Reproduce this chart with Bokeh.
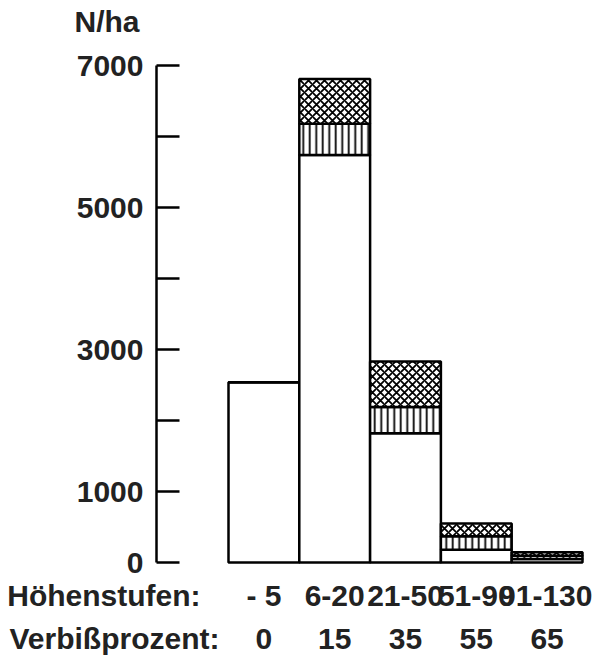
import numpy as np
from bokeh.plotting import figure
from bokeh.layouts import column
from bokeh.models import (ColumnDataSource, Range1d, FixedTicker, LinearAxis)
from bokeh.embed import file_html
from bokeh.resources import INLINE

# ---- data ----
hoehenstufen = ["- 5", "6-20", "21-50", "51-90", "91-130"]
verbissprozent = ["0", "15", "35", "55", "65"]
unverbissen = [2540, 5740, 1820, 180, 50]      # white part
verbissen_1 = [0, 440, 370, 190, 45]           # vertical hatch
verbissen_2 = [0, 630, 640, 180, 50]           # cross hatch
y_ticks = [0, 1000, 2000, 3000, 4000, 5000, 6000, 7000]
y_labeled = [0, 1000, 3000, 5000, 7000]
row_titles = ["Höhenstufen:", "Verbißprozent:"]
unit_label = "N/ha"

FONT = "Liberation Sans"
FS = "30px"
COL = "#222222"
W = 592
FULL_X = (-3.7203, 4.6412)   # x range when the frame spans the full width

idx = np.arange(len(hoehenstufen))
w = np.array(unverbissen, dtype=float)
v = np.array(verbissen_1, dtype=float)
c = np.array(verbissen_2, dtype=float)

src = ColumnDataSource(dict(
    x=idx,
    b0=np.zeros_like(w), t0=w,
    b1=w, t1=w + v,
    b2=w + v, t2=w + v + c,
))


def no_align(fig):
    try:
        fig.frame_align = False
    except AttributeError:
        pass


def style_text_axis(ax, standoff):
    ax.axis_line_color = None
    ax.major_tick_line_color = None
    ax.minor_tick_line_color = None
    ax.major_tick_out = 0
    ax.major_tick_in = 0
    ax.major_label_standoff = standoff
    ax.major_label_text_font = FONT
    ax.major_label_text_font_size = FS
    ax.major_label_text_font_style = "bold"
    ax.major_label_text_color = COL


def strip(height, ticks, overrides, standoffs):
    f = figure(width=W, height=height, output_backend="svg", toolbar_location=None,
               x_range=Range1d(*FULL_X), y_range=Range1d(0, 1),
               min_border_left=0, min_border_right=0, min_border_top=0,
               min_border_bottom=height - 1, x_axis_location=None, y_axis_location=None)
    no_align(f)
    f.outline_line_color = None
    f.xgrid.visible = False
    f.ygrid.visible = False
    f.background_fill_color = "white"
    f.border_fill_color = "white"
    for tk, ov, so in zip(ticks, overrides, standoffs):
        ax = LinearAxis(ticker=FixedTicker(ticks=tk))
        ax.major_label_overrides = ov
        style_text_axis(ax, so)
        f.add_layout(ax, "below")
    return f


# ---------------- unit label strip ----------------
unit_pos = -2.216
r = strip(44, [[unit_pos]], [{unit_pos: unit_label}], [3])

# ---------------- main chart ----------------
p = figure(width=W, height=534, output_backend="svg", toolbar_location=None,
           x_range=Range1d(-1.517, 4.613), y_range=Range1d(-28, 7000),
           min_border_left=156, min_border_right=2, min_border_top=21,
           min_border_bottom=14, x_axis_location=None, y_axis_location=None)
no_align(p)
p.outline_line_color = None
p.xgrid.visible = False
p.ygrid.visible = False
p.background_fill_color = "white"
p.border_fill_color = "white"

common = dict(x="x", width=1.0, source=src, fill_color="white",
              line_color="black", line_width=2.5)
p.vbar(bottom="b0", top="t0", **common)
p.vbar(bottom="b1", top="t1", hatch_pattern="vertical_line", hatch_color="black",
       hatch_scale=6.5, hatch_weight=1.8, **common)
p.vbar(bottom="b2", top="t2", hatch_pattern="diagonal_cross", hatch_color="black",
       hatch_scale=8, hatch_weight=1.8, **common)

yax = LinearAxis(ticker=FixedTicker(ticks=y_ticks), bounds=(0, 7000))
yax.major_label_overrides = {t: (str(t) if t in y_labeled else "") for t in y_ticks}
yax.axis_line_width = 2.5
yax.major_tick_line_width = 2.5
yax.major_tick_in = 23
yax.major_tick_out = 0
yax.minor_tick_line_color = None
yax.major_label_standoff = 13
yax.major_label_text_font = FONT
yax.major_label_text_font_size = FS
yax.major_label_text_font_style = "bold"
yax.major_label_text_color = COL
p.add_layout(yax, "left")

# ---------------- label rows below the bars ----------------
title_pos = [-2.26, -2.11]   # centre of each row heading
rows = [(row_titles[0], title_pos[0], hoehenstufen), (row_titles[1], title_pos[1], verbissprozent)]
ticks, ovs = [], []
for title, tpos, labels in rows:
    ticks.append([tpos] + [float(i) for i in idx])
    ov = {tpos: title}
    ov.update({float(i): lab for i, lab in zip(idx, labels)})
    ovs.append(ov)
q = strip(76, ticks, ovs, [0, 7])

layout = column(r, p, q, spacing=0)
open("out.html", "w").write(file_html(layout, INLINE))
